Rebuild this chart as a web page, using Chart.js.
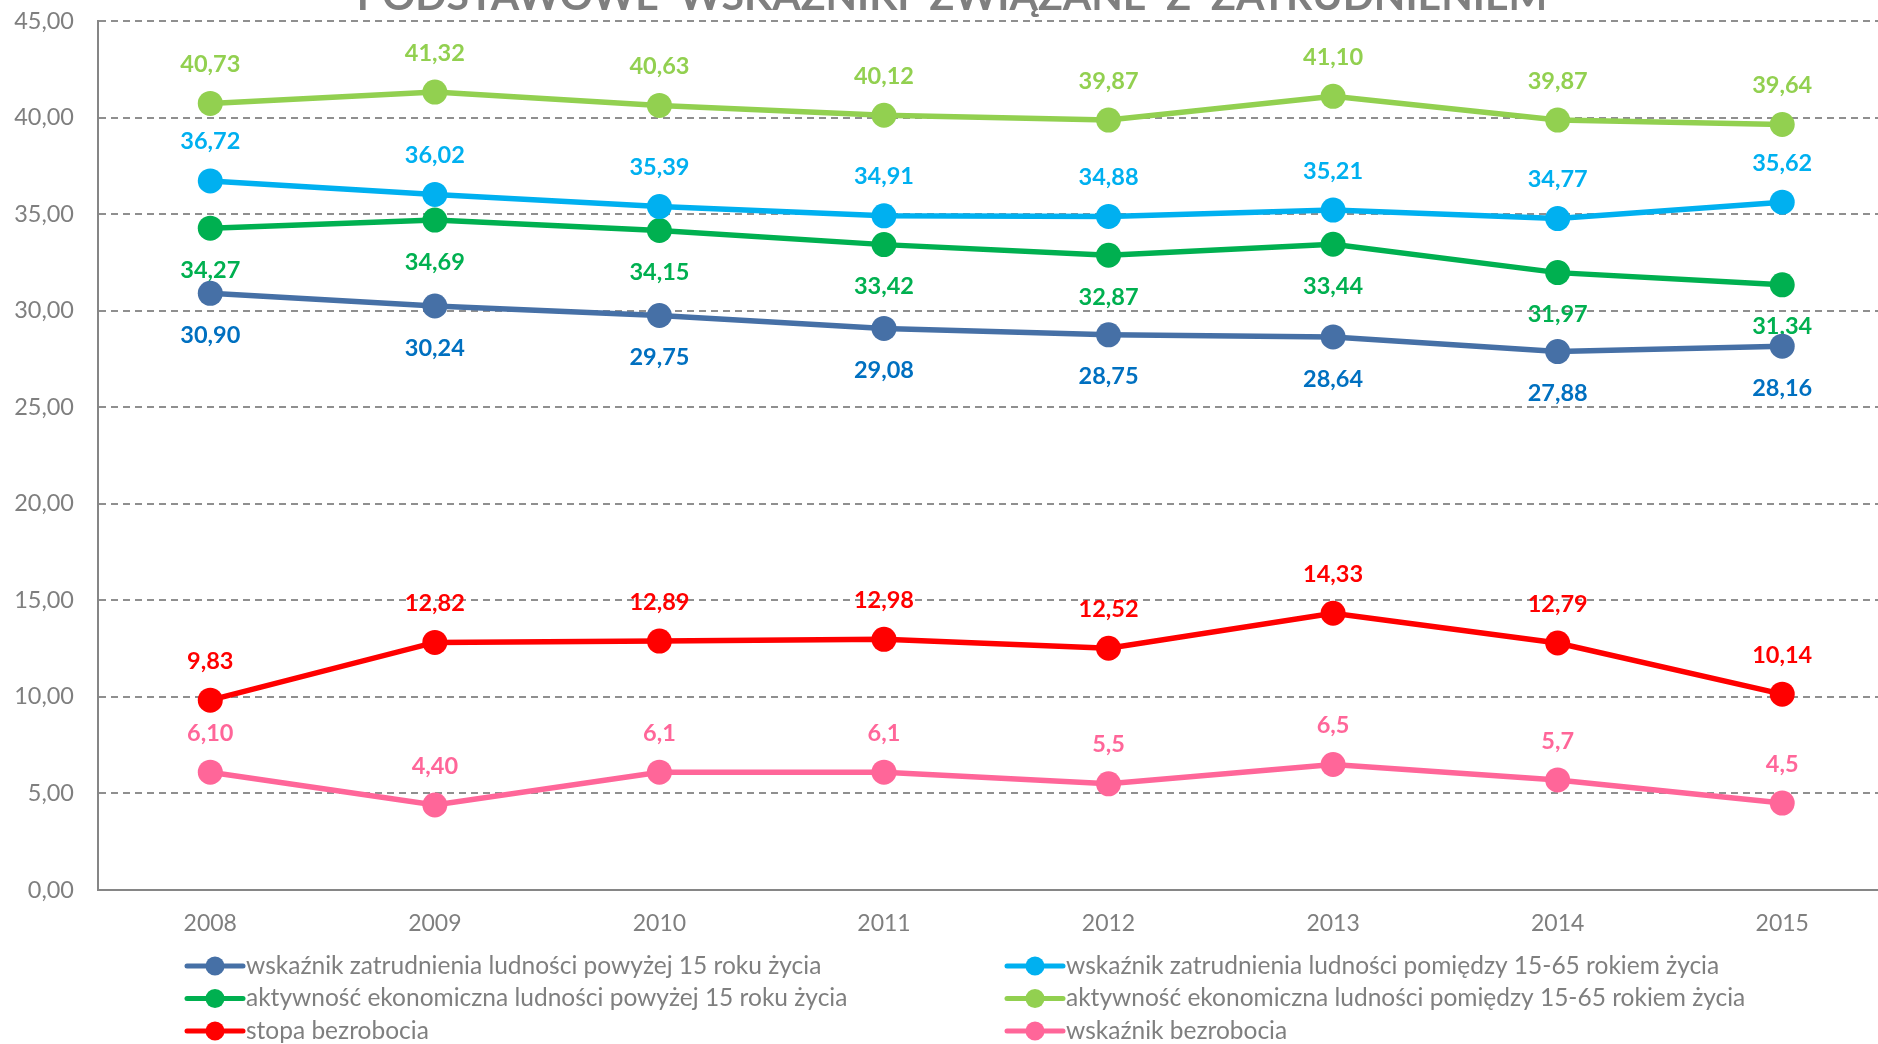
<!DOCTYPE html>
<html>
<head>
<meta charset="utf-8">
<script src="https://cdn.jsdelivr.net/npm/chart.js@4/dist/chart.umd.min.js"></script>
<style>
html,body{margin:0;padding:0;overflow:hidden;background:#fff;width:1878px;height:1044px}
#wrap{position:absolute;left:0;top:0;width:1907px;height:1044px}
</style>
</head>
<body>
<div id="wrap"><canvas id="c"></canvas></div>
<script>
const chartTitle = 'PODSTAWOWE  WSKAŹNIKI  ZWIĄZANE  Z  ZATRUDNIENIEM';
const years = ['2008','2009','2010','2011','2012','2013','2014','2015'];
const yTicks = [0,5,10,15,20,25,30,35,40,45];

const empOver15 = [30.90,30.24,29.75,29.08,28.75,28.64,27.88,28.16];
const emp15to65 = [36.72,36.02,35.39,34.91,34.88,35.21,34.77,35.62];
const actOver15 = [34.27,34.69,34.15,33.42,32.87,33.44,31.97,31.34];
const act15to65 = [40.73,41.32,40.63,40.12,39.87,41.10,39.87,39.64];
const unempRate = [9.83,12.82,12.89,12.98,12.52,14.33,12.79,10.14];
const unempIndex = [6.10,4.40,6.1,6.1,5.5,6.5,5.7,4.5];
const unempIndexLabels = ['6,10','4,40','6,1','6,1','5,5','6,5','5,7','4,5'];

const seriesNames = [
  'wskaźnik zatrudnienia ludności powyżej 15 roku życia',
  'wskaźnik zatrudnienia ludności pomiędzy 15-65 rokiem życia',
  'aktywność ekonomiczna ludności powyżej 15 roku życia',
  'aktywność ekonomiczna ludności pomiędzy 15-65 rokiem życia',
  'stopa bezrobocia',
  'wskaźnik bezrobocia'
];

const fmt = v => v.toFixed(2).replace('.', ',');
const FONT = 'Lato, "Liberation Sans", sans-serif';
const GRAY = '#7F7F7F';

function mk(i, data, color, labelColor, pos, labels) {
  return {
    label: seriesNames[i],
    data: data,
    borderColor: color,
    backgroundColor: color,
    pointBackgroundColor: color,
    pointBorderColor: color,
    pointBorderWidth: 0,
    pointRadius: 12.5,
    pointHoverRadius: 12.5,
    borderWidth: 5.5,
    tension: 0,
    labelColor: labelColor,
    labelPos: pos,
    labelTexts: labels || data.map(fmt)
  };
}

const labelPlugin = {
  id: 'valLabels',
  afterDatasetDraw(chart, args) {
    const ds = chart.data.datasets[args.index];
    const ctx = chart.ctx;
    ctx.save();
    ctx.font = 'bold 23.5px ' + FONT;
    ctx.fillStyle = ds.labelColor;
    ctx.textAlign = 'center';
    ctx.textBaseline = 'middle';
    args.meta.data.forEach((el, i) => {
      const dy = ds.labelPos === 'below' ? 42 : -39;
      ctx.fillText(ds.labelTexts[i], el.x, el.y + dy);
    });
    ctx.restore();
  }
};

const titlePlugin = {
  id: 'cutTitle',
  afterDraw(chart) {
    const ctx = chart.ctx;
    ctx.save();
    ctx.font = 'bold 41px ' + FONT;
    ctx.fillStyle = GRAY;
    ctx.textAlign = 'center';
    ctx.textBaseline = 'alphabetic';
    ctx.fillText(chartTitle, 952, 10);
    ctx.restore();
  }
};

const legendPlugin = {
  id: 'twoColLegend',
  afterDraw(chart) {
    const ctx = chart.ctx;
    const ca = chart.chartArea;
    ctx.save();
    ctx.font = '24.5px ' + FONT;
    ctx.textBaseline = 'middle';
    ctx.textAlign = 'left';
    chart.data.datasets.forEach((ds, i) => {
      const col = i % 2, row = Math.floor(i / 2);
      const x0 = ca.left + (col ? 909 : 89);
      const y = ca.bottom + 76 + row * 32.5;
      ctx.strokeStyle = ds.borderColor;
      ctx.lineWidth = 5;
      ctx.lineCap = 'round';
      ctx.beginPath(); ctx.moveTo(x0, y); ctx.lineTo(x0 + 56, y); ctx.stroke();
      ctx.fillStyle = ds.borderColor;
      ctx.beginPath(); ctx.arc(x0 + 28, y, 9.5, 0, Math.PI * 2); ctx.fill();
      ctx.fillStyle = GRAY;
      ctx.fillText(ds.label, x0 + 59, y);
    });
    ctx.restore();
  }
};

function draw() {
  new Chart(document.getElementById('c'), {
    type: 'line',
    data: {
      labels: years,
      datasets: [
        mk(0, empOver15, '#4670A6', '#0070C0', 'below'),
        mk(1, emp15to65, '#00B0F0', '#00B0F0', 'above'),
        mk(2, actOver15, '#00B050', '#00B050', 'below'),
        mk(3, act15to65, '#92D050', '#92D050', 'above'),
        mk(4, unempRate, '#FF0000', '#FF0000', 'above'),
        mk(5, unempIndex, '#FF6699', '#FF6699', 'above', unempIndexLabels)
      ]
    },
    options: {
      responsive: true,
      maintainAspectRatio: false,
      animation: false,
      devicePixelRatio: 1,
      layout: { padding: { top: 21, right: 6, bottom: 100, left: 0 } },
      plugins: { legend: { display: false }, title: { display: false }, tooltip: { enabled: false } },
      scales: {
        x: {
          offset: true,
          grid: { display: false, drawTicks: false },
          border: { display: true, color: '#868686', width: 2 },
          ticks: { color: GRAY, font: { family: FONT, size: 23 }, padding: 20, maxRotation: 0 },
          afterFit(s) { s.height = 54; s.paddingLeft = 0; s.paddingRight = 0; }
        },
        y: {
          min: 0, max: 45,
          afterBuildTicks(s) { s.ticks = yTicks.map(v => ({ value: v })); },
          grid: {
            drawTicks: false,
            lineWidth: 2,
            color: c => (c.tick && c.tick.value === 0) ? 'rgba(0,0,0,0)' : '#8F8F8F'
          },
          border: { display: true, color: '#868686', width: 2, dash: [7, 5] },
          ticks: { color: GRAY, font: { family: FONT, size: 23.5 }, padding: 24, callback: v => fmt(v) },
          afterFit(s) { s.width = 98; s.paddingTop = 0; s.paddingBottom = 0; }
        }
      }
    },
    plugins: [labelPlugin, titlePlugin, legendPlugin]
  });
}

if (document.fonts && document.fonts.load) {
  Promise.all([document.fonts.load('23px Lato'), document.fonts.load('bold 23px Lato')]).then(draw, draw);
} else { draw(); }
</script>
</body>
</html>
